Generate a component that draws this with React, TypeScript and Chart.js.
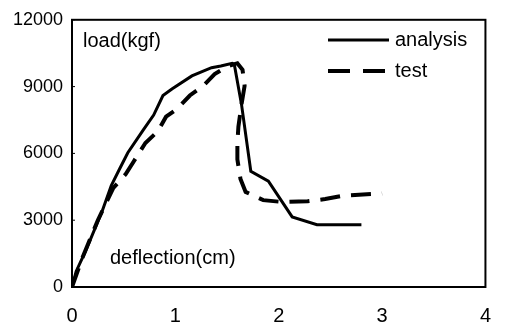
import React, { useEffect, useRef } from "react";
import { Chart, registerables } from "chart.js";

Chart.register(...registerables);

const analysisX = [0, 0.04, 0.13, 0.29, 0.38, 0.46, 0.54, 0.69, 0.79, 0.88, 0.97, 1.16, 1.35, 1.44, 1.55, 1.57, 1.64, 1.73, 1.9, 2.13, 2.37, 2.8];
const analysisY = [0, 700, 1600, 3380, 4560, 5300, 6030, 7060, 7720, 8600, 8900, 9480, 9850, 9925, 10050, 10000, 8200, 5200, 4750, 3150, 2800, 2800];

const testX = [0, 0.1, 0.25, 0.4, 0.52, 0.6, 0.71, 0.83, 0.91, 1.02, 1.14, 1.27, 1.38, 1.5, 1.6, 1.65, 1.67, 1.64, 1.61, 1.6, 1.6, 1.63, 1.68, 1.85, 2.03, 2.28, 2.45, 2.62, 3.0];
const testY = [0, 1300, 3000, 4450, 5070, 5660, 6470, 6990, 7650, 8010, 8600, 9040, 9560, 9900, 10050, 9750, 9040, 8200, 7200, 6470, 5730, 4850, 4270, 3900, 3820, 3850, 3950, 4100, 4200];

const seriesNames = ["analysis", "test"];
const yAxisNote = "load(kgf)";
const xAxisNote = "deflection(cm)";
const xTicks = [0, 1, 2, 3, 4];
const yTicks = [0, 3000, 6000, 9000, 12000];

const FONT = "'Liberation Sans', Arial, sans-serif";

const framePlugin = {
  id: "framePlugin",
  afterDraw(chart: any) {
    const { ctx, chartArea } = chart;
    const { left, right, top, bottom } = chartArea;
    ctx.save();
    ctx.strokeStyle = "#000";
    ctx.lineWidth = 2;
    ctx.setLineDash([]);
    ctx.strokeRect(left, top, right - left, bottom - top);
    const ys = chart.scales.y;
    ctx.lineWidth = 1;
    yTicks.forEach((v) => {
      const py = ys.getPixelForValue(v);
      ctx.beginPath();
      ctx.moveTo(left, py);
      ctx.lineTo(left + 3, py);
      ctx.stroke();
    });
    ctx.fillStyle = "#000";
    ctx.font = `20px ${FONT}`;
    ctx.textBaseline = "middle";
    ctx.textAlign = "left";
    ctx.fillText(yAxisNote, 83, 41);
    ctx.fillText(xAxisNote, 110, 258);
    const ds = chart.data.datasets;
    const rows = [40, 71];
    ds.forEach((d: any, i: number) => {
      const y = rows[i];
      ctx.strokeStyle = "#000";
      ctx.lineWidth = d.borderWidth;
      ctx.setLineDash(d.borderDash && d.borderDash.length ? [22, 13] : []);
      ctx.beginPath();
      ctx.moveTo(328, y);
      ctx.lineTo(389, y);
      ctx.stroke();
      ctx.setLineDash([]);
      ctx.fillText(d.label, 395, y);
    });
    ctx.restore();
  },
};

export default function App() {
  const ref = useRef<HTMLCanvasElement | null>(null);
  useEffect(() => {
    if (!ref.current) return;
    const chart = new Chart(ref.current, {
      type: "line",
      data: {
        datasets: [
          {
            label: seriesNames[0],
            data: analysisX.map((x, i) => ({ x, y: analysisY[i] })),
            borderColor: "#000",
            borderWidth: 3,
            pointRadius: 0,
            tension: 0,
            fill: false,
          },
          {
            label: seriesNames[1],
            data: testX.map((x, i) => ({ x, y: testY[i] })),
            borderColor: "#000",
            borderWidth: 4,
            borderDash: [20, 11],
            pointRadius: 0,
            tension: 0,
            fill: false,
          },
        ],
      },
      options: {
        animation: false,
        responsive: false,
        maintainAspectRatio: false,
        layout: { padding: { top: 14, right: 8, left: 0, bottom: 0 } },
        plugins: { legend: { display: false }, tooltip: { enabled: false } },
        scales: {
          x: {
            type: "linear",
            min: xTicks[0],
            max: xTicks[xTicks.length - 1],
            afterBuildTicks: (s: any) => {
              s.ticks = xTicks.map((v) => ({ value: v }));
            },
            grid: { display: false, drawTicks: false },
            border: { display: false },
            ticks: {
              color: "#000",
              font: { size: 20, family: FONT },
              padding: 17,
              maxRotation: 0,
              callback: (v: any) => String(v),
            },
            afterFit: (s: any) => {
              s.height = 40;
            },
          },
          y: {
            type: "linear",
            min: yTicks[0],
            max: yTicks[yTicks.length - 1],
            afterBuildTicks: (s: any) => {
              s.ticks = yTicks.map((v) => ({ value: v }));
            },
            grid: { display: false, drawTicks: false },
            border: { display: false },
            ticks: {
              color: "#000",
              font: { size: 18, family: FONT },
              padding: 9,
              callback: (v: any) => String(v),
            },
            afterFit: (s: any) => {
              s.width = 72;
            },
          },
        },
      },
      plugins: [framePlugin],
    });
    return () => chart.destroy();
  }, []);
  return (
    <div style={{ position: "absolute", left: 0, top: 0, width: 508, height: 327, background: "#fff" }}>
      <canvas ref={ref} width={508} height={327} style={{ width: 508, height: 327 }} />
    </div>
  );
}
